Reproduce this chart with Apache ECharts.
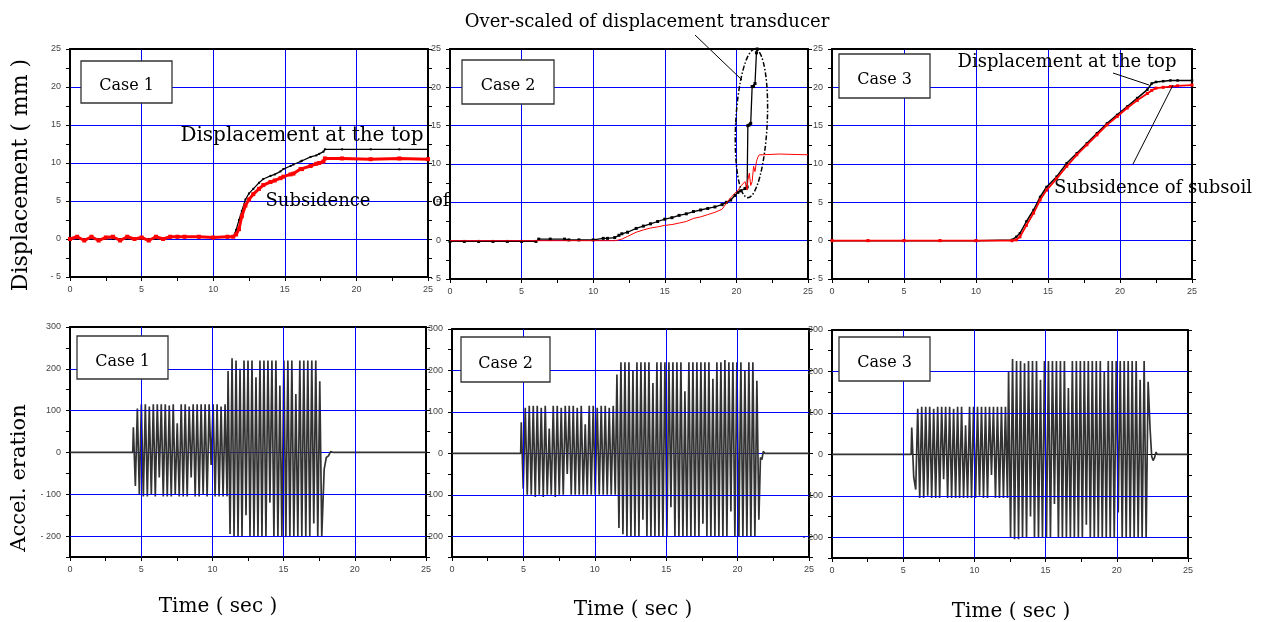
<!DOCTYPE html>
<html>
<head>
<meta charset="utf-8">
<title>Displacement and acceleration, cases 1-3</title>
<style>
  html, body { margin: 0; padding: 0; background: #fff; }
  #main { width: 1267px; height: 622px; }
</style>
</head>
<body>
<div id="main"></div>
<script src="https://cdn.jsdelivr.net/npm/echarts@6/dist/echarts.min.js"></script>
<script>
// ---- data ----

// top row: displacement (mm) against time (sec)
var c1Time = [0, 0.5, 1.0, 1.5, 2.0, 2.5, 3.0, 3.5, 4.0, 4.5, 5.0, 5.5, 6.0, 6.5, 7.0, 7.5, 8.0, 9.0, 10.0, 11.0,
  11.4, 11.6, 11.8, 12.0, 12.25, 12.5, 12.8, 13.2, 13.5, 14.0, 14.3, 14.7, 14.9, 15.4, 15.6, 16.1, 16.2, 16.8, 17.2, 17.4,
  17.7, 17.8, 19, 21, 23, 25];
var c1Top = [0, 0, 0, 0, 0, 0, 0, 0, 0, 0, 0, 0, 0, 0, 0.2, 0.2, 0.2, 0.2, 0.2, 0.2,
  0.3, 1.2, 2.5, 3.7, 5.2, 6.0, 6.6, 7.4, 7.9, 8.3, 8.5, 8.9, 9.2, 9.6, 9.8, 10.2, 10.3, 10.8, 11.0, 11.2,
  11.5, 11.8, 11.8, 11.8, 11.8, 11.8];
var c1Sub = [0, 0.3, -0.2, 0.3, -0.2, 0.2, 0.3, -0.2, 0.3, 0, 0.2, -0.2, 0.3, 0, 0.3, 0.3, 0.3, 0.3, 0.2, 0.3,
  0.3, 0.6, 1.3, 3.0, 4.4, 5.2, 5.9, 6.6, 7.1, 7.5, 7.7, 8.0, 8.2, 8.5, 8.6, 9.2, 9.2, 9.6, 9.9, 10.0,
  10.2, 10.6, 10.6, 10.5, 10.6, 10.5];

var c2Time = [0, 1, 2, 3, 4, 5, 6.0, 6.2, 7, 8, 8.3, 9, 10, 10.7, 11, 11.5, 11.8, 12, 12.4, 13,
  13.5, 14, 14.5, 15, 15.5, 16, 16.5, 17, 17.5, 18, 18.5, 19, 19.3, 19.6, 19.9, 20.1, 20.3, 20.6, 20.75, 20.8,
  20.9, 21.0, 21.1, 21.2, 21.3, 21.4, 21.45, 21.5, 21.6, 21.8, 23, 25];
var c2Top = [-0.1, -0.1, -0.1, -0.1, -0.1, -0.1, -0.1, 0.2, 0.2, 0.2, 0.1, 0.1, 0.1, 0.3, 0.3, 0.4, 0.7, 0.9, 1.1, 1.6,
  1.9, 2.2, 2.5, 2.8, 3.0, 3.3, 3.5, 3.8, 4.0, 4.2, 4.4, 4.7, 5.0, 5.3, 5.9, 6.3, 6.5, 6.8, 7.0, 15.0,
  15.1, 15.3, 20.1, 20.1, 20.5, 24.5, 25, null, null, null, null, null];
var c2Sub = [0, 0, 0, 0, 0, 0, 0, 0, 0, 0, 0, 0, 0, 0, 0, 0, 0.1, 0.2, 0.55, 1.1,
  1.4, 1.65, 1.8, 2.0, 2.1, 2.3, 2.5, 2.9, 3.1, 3.4, 3.7, 4.1, 4.9, 5.6, 6.2, 6.5, 7.1, 7.7, 6.6, 7.9,
  8.8, 7.2, 7.7, 9.7, 9.0, 10.3, 10.6, 10.9, 11.2, 11.2, 11.3, 11.2];

var c3Time = [0, 2.5, 5, 7.5, 10, 12.5, 12.8, 13.05, 13.5, 14.0, 14.45, 14.9, 15.6, 16.3, 17.0, 17.7, 18.4, 19.1, 19.8, 20.5,
  21.2, 21.9, 22.2, 22.5, 23.0, 23.5, 24, 25];
var c3Top = [0, 0, 0, 0, 0, 0.1, 0.5, 0.96, 2.5, 4.0, 5.7, 7.0, 8.35, 10.1, 11.4, 12.7, 14.0, 15.3, 16.4, 17.5,
  18.6, 19.7, 20.5, 20.7, 20.8, 20.9, 20.9, 20.9];
var c3Sub = [0, 0, 0, 0, 0, 0, 0.1, 0.5, 2.0, 3.6, 5.3, 6.6, 8.1, 9.7, 11.2, 12.5, 13.8, 15.1, 16.2, 17.3,
  18.3, 19.2, 19.6, 19.9, 20.0, 20.1, 20.2, 20.3];

// bottom row: acceleration, sampled every accelStep seconds while shaking
var accelStep = 0.14;

var c1AccStart = [4.45, 11.1];
var c1Acc1 = [60, -80, 105, -100, 115, -105, 115, -105, 110, -100, 115, -105,
  115, -60, 115, -105, 115, -105, 112, -105, 115, -100, 70, -105,
  115, -105, 115, -105, 110, -60, 115, -105, 115, -105, 115, -100,
  115, -105, 115, -30, 115, -105, 115, -105, 110, -105, 115, -105];
var c1Acc2 = [195, -195, 225, -200, 220, -200, 200, -200, 220, -150, 220, -200,
  220, -200, 180, -200, 220, -200, 220, -200, 220, -120, 220, -200,
  220, -200, 160, -200, 220, -200, 220, -200, 220, -200, 140, -200,
  220, -200, 220, -200, 220, -200, 220, -170, 220, -200, 170, -200];
var c1AccTail = [[17.85, -40], [18.0, -12], [18.15, -8], [18.3, 2], [18.5, 0], [25, 0]];

var c2AccStart = [4.85, 11.55];
var c2Acc1 = [75, -85, 110, -100, 115, -100, 115, -105, 115, -100, 110, -105,
  115, -100, 60, -100, 115, -105, 115, -100, 110, -100, 115, -50,
  115, -100, 115, -100, 110, -100, 115, -100, 70, -100, 115, -100,
  115, -100, 110, -100, 115, -100, 115, -100, 110, -100, 115, -100];
var c2Acc2 = [190, -180, 220, -195, 220, -200, 220, -200, 200, -200, 220, -200,
  220, -160, 220, -200, 220, -200, 170, -200, 220, -200, 220, -200,
  220, -200, 220, -130, 220, -200, 220, -200, 220, -200, 150, -200,
  220, -200, 220, -200, 220, -200, 220, -170, 220, -200, 220, -200,
  180, -200, 220, -200, 220, -200, 225, -200, 220, -140, 220, -200,
  220, -200, 220, -200, 200, -200, 220, -200, 220, -200, 175, -160];
var c2AccTail = [[21.6, -10], [21.7, -15], [21.8, 5], [21.9, 0], [25, 0]];

var c3AccStart = [5.6, 12.4];
var c3Acc1 = [65, -55, -85, 110, -105, 115, -105, 115, -100, 115, -105, 110,
  -105, 115, -105, 115, -60, 115, -105, 115, -105, 110, -105, 115,
  -105, 115, -105, 70, -105, 115, -105, 115, -105, 115, -100, 115,
  -105, 115, -105, 115, -50, 115, -105, 115, -105, 115, -105, 115,
  -105];
var c3Acc2 = [200, -200, 230, -205, 225, -205, 225, -200, 220, -200, 225, -150,
  225, -200, 225, -200, 180, -200, 225, -200, 225, -200, 225, -120,
  225, -200, 225, -200, 225, -200, 160, -200, 225, -200, 225, -200,
  225, -200, 225, -170, 225, -200, 225, -200, 225, -200, 225, -200,
  200, -200, 225, -200, 225, -200, 225, -140, 225, -200, 225, -200,
  225, -200, 225, -200, 225, -200, 180, -200, 225, -200, 175, 60];
var c3AccTail = [[22.45, -5], [22.55, -15], [22.65, -8], [22.75, 5], [22.85, 0], [23.7, 0], [23.8, 3], [23.9, 0], [25, 0]];

// ticks
var timeTicks = { min: 0, max: 25, interval: 5 };
var dispTicks = { min: -5, max: 25, interval: 5 };
var accTicks = { min: -250, max: 300, interval: 50 };
var accGridY = [-200, -100, 100, 200];
var timeGridX = [5, 10, 15, 20];

// ---- helpers ----
var SANS = 'Liberation Sans, Arial, sans-serif';
var SERIF = 'DejaVu Serif, serif';
var BLUE = '#0000ff';

function pairs(t, v) {
  return t.map(function (x, i) { return [x, v[i]]; });
}

function accelData(starts, stages, tail) {
  var out = [[0, 0], [starts[0] - 0.04, 0]];
  stages.forEach(function (vals, k) {
    vals.forEach(function (v, i) {
      out.push([+(starts[k] + i * accelStep).toFixed(3), v]);
    });
  });
  return out.concat(tail);
}

function tickText(v) {
  return v < 0 ? '- ' + (-v) : String(v);
}

var chart = echarts.init(document.getElementById('main'));

// plot areas: 3 displacement panels on top, 3 acceleration panels below
var panels = [
  { left: 70, top: 49, width: 358, height: 228 },
  { left: 450, top: 49, width: 358, height: 230 },
  { left: 832, top: 49, width: 360, height: 230 },
  { left: 70, top: 327, width: 356, height: 230 },
  { left: 452, top: 329, width: 357, height: 228 },
  { left: 832, top: 330, width: 356, height: 228 }
];

var xAxes = [];
var yAxes = [];
panels.forEach(function (p, i) {
  var isTop = i < 3;
  var yt = isTop ? dispTicks : accTicks;
  // bottom + top x axes
  xAxes.push({
    gridIndex: i, type: 'value', position: 'bottom',
    min: timeTicks.min, max: timeTicks.max, interval: timeTicks.interval,
    axisLine: { onZero: false, lineStyle: { color: '#000', width: 2 } },
    axisTick: { length: 4, lineStyle: { color: '#000' } },
    minorTick: { show: true, splitNumber: 2, length: 4, lineStyle: { color: '#000' } },
    axisLabel: { fontSize: 9, color: '#444', fontFamily: SANS, margin: 8 },
    splitLine: { show: isTop, lineStyle: { color: BLUE, width: 1 } }
  });
  xAxes.push({
    gridIndex: i, type: 'value', position: 'top',
    min: timeTicks.min, max: timeTicks.max, interval: timeTicks.interval,
    axisLine: { onZero: false, lineStyle: { color: '#000', width: 2 } },
    axisTick: { show: false }, axisLabel: { show: false }, splitLine: { show: false }
  });
  // left + right y axes
  yAxes.push({
    gridIndex: i, type: 'value', position: 'left',
    min: yt.min, max: yt.max, interval: yt.interval,
    axisLine: { show: true, onZero: false, lineStyle: { color: '#000', width: 2 } },
    axisTick: { show: true, length: 4, lineStyle: { color: '#000' } },
    minorTick: { show: isTop, splitNumber: 2, length: 4, lineStyle: { color: '#000' } },
    axisLabel: {
      fontSize: 9, color: '#444', fontFamily: SANS, margin: 9,
      formatter: function (v) { return (isTop || v % 100 === 0) ? tickText(v) : ''; }
    },
    splitLine: { show: isTop, lineStyle: { color: BLUE, width: 1 } }
  });
  yAxes.push({
    gridIndex: i, type: 'value', position: 'right',
    min: yt.min, max: yt.max, interval: yt.interval,
    axisLine: { show: true, onZero: false, lineStyle: { color: '#000', width: 2 } },
    axisTick: { show: true, length: 4, lineStyle: { color: '#000' } },
    minorTick: { show: isTop, splitNumber: 2, length: 4, lineStyle: { color: '#000' } },
    axisLabel: { show: false }, splitLine: { show: false }
  });
});

function dispLine(i, data, color, width, size) {
  return {
    type: 'line', xAxisIndex: 2 * i, yAxisIndex: 2 * i, data: data,
    symbol: 'rect', symbolSize: size, showSymbol: size > 0, showAllSymbol: true,
    lineStyle: { color: color, width: width }, itemStyle: { color: color },
    silent: true, z: color === '#ff0000' ? 4 : 3
  };
}

// blue grid over the trace (as in the figure)
function accLine(i, data) {
  var grid = accGridY.map(function (v) { return { yAxis: v }; })
    .concat(timeGridX.map(function (v) { return { xAxis: v }; }));
  return {
    type: 'line', xAxisIndex: 2 * i, yAxisIndex: 2 * i, data: data, z: 3,
    showSymbol: false, lineStyle: { color: '#333', width: 1.7 }, silent: true,
    markLine: {
      silent: true, symbol: 'none', label: { show: false }, animation: false, z: 5,
      lineStyle: { color: BLUE, width: 1, type: 'solid' },
      data: grid
    }
  };
}

// zero grid line sits under the trace
function zeroLine(i, color) {
  return {
    type: 'line', xAxisIndex: 2 * i, yAxisIndex: 2 * i, data: [[0, 0]], z: 1,
    showSymbol: false, lineStyle: { width: 0 }, silent: true,
    markLine: {
      silent: true, symbol: 'none', label: { show: false }, animation: false, z: 1,
      lineStyle: { color: color, width: 1, type: 'solid' },
      data: [{ yAxis: 0 }]
    }
  };
}

var series = [
  dispLine(0, pairs(c1Time, c1Top), '#000', 1.2, 2),
  dispLine(0, pairs(c1Time, c1Sub), '#ff0000', 3, 4),
  dispLine(1, pairs(c2Time, c2Top), '#000', 1.3, 3),
  dispLine(1, pairs(c2Time, c2Sub), '#ff0000', 1, 0),
  dispLine(2, pairs(c3Time, c3Top), '#000', 1.5, 2.5),
  dispLine(2, pairs(c3Time, c3Sub), '#ff0000', 1.8, 3),
  accLine(3, accelData(c1AccStart, [c1Acc1, c1Acc2], c1AccTail)),
  accLine(4, accelData(c2AccStart, [c2Acc1, c2Acc2], c2AccTail)),
  accLine(5, accelData(c3AccStart, [c3Acc1, c3Acc2], c3AccTail)),
  zeroLine(3, BLUE),
  zeroLine(4, BLUE),
  zeroLine(5, '#000')
];

chart.setOption({
  animation: false,
  grid: panels,
  xAxis: xAxes,
  yAxis: yAxes,
  series: series
});

// ---- annotations ----
function label(text, x, y, size, align, rot) {
  return {
    type: 'text', x: x, y: y, rotation: rot || 0, z: 60,
    style: {
      text: text, font: size + 'px ' + SERIF, fill: '#000',
      textAlign: align || 'center', align: align || 'center',
      textVerticalAlign: 'middle', verticalAlign: 'middle'
    }
  };
}

function caseBox(text, x, y, w, h) {
  return [{
    type: 'rect', z: 50,
    shape: { x: x, y: y, width: w, height: h },
    style: { fill: '#fff', stroke: '#333', lineWidth: 1.3 }
  }, label(text, x + w / 2, y + h / 2 + 4, 16)];
}

function leader(x1, y1, x2, y2) {
  return { type: 'line', z: 60, shape: { x1: x1, y1: y1, x2: x2, y2: y2 }, style: { stroke: '#000', lineWidth: 1 } };
}

var graphics = [].concat(
  caseBox('Case 1', 81, 61, 91, 42),
  caseBox('Case 2', 462, 60, 92, 44),
  caseBox('Case 3', 839, 54, 91, 44),
  caseBox('Case 1', 77, 336, 91, 43),
  caseBox('Case 2', 461, 337, 89, 45),
  caseBox('Case 3', 839, 337, 91, 44),
  [
    label('Over-scaled of displacement transducer', 647, 22, 18),
    leader(695, 35, 742, 80),
    label('Displacement at the top', 302, 136, 20),
    label('Subsidence', 318, 201, 18),
    label('of', 432, 201, 18, 'left'),
    label('Displacement at the top', 1067, 62, 18),
    leader(1113, 73, 1149, 85),
    label('Subsidence of subsoil', 1153, 188, 18),
    leader(1133, 164, 1173, 85),
    label('Displacement ( mm )', 21, 175, 22, 'center', Math.PI / 2),
    label('Accel. eration', 20, 478, 21, 'center', Math.PI / 2),
    label('Time ( sec )', 218, 607, 20),
    label('Time ( sec )', 633, 610, 20),
    label('Time ( sec )', 1011, 612, 20)
  ]
);

// dashed ring round the over-scaled part of case 2
var ringC = chart.convertToPixel({ seriesIndex: 2 }, [21.05, 15.3]);
var ringA = chart.convertToPixel({ seriesIndex: 2 }, [19.95, 5.6]);
var ringB = chart.convertToPixel({ seriesIndex: 2 }, [22.15, 25]);
graphics.push({
  type: 'ellipse', z: 60, x: ringC[0], y: ringC[1], rotation: -0.05,
  shape: { cx: 0, cy: 0, rx: (ringB[0] - ringA[0]) / 2, ry: (ringA[1] - ringB[1]) / 2 },
  style: { fill: 'none', stroke: '#000', lineWidth: 1.5, lineDash: [5, 2, 1.5, 2] }
});

chart.setOption({ graphic: graphics });
</script>
</body>
</html>
